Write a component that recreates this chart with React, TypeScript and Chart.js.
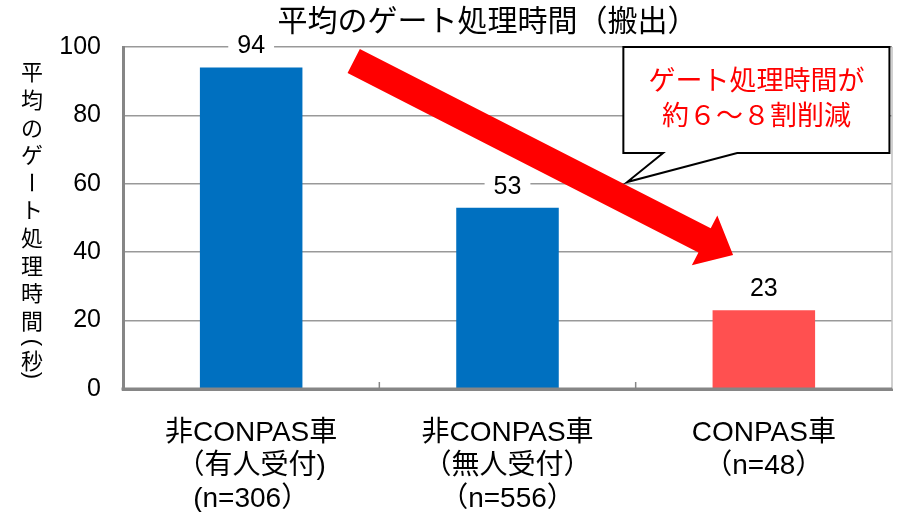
import React, { useEffect, useRef } from 'react';
import { Chart, registerables } from 'chart.js';

Chart.register(...registerables);

const FONT = "'Liberation Sans', 'Noto Sans CJK JP', sans-serif";
const CJK_FONT = "'Noto Sans CJK JP', sans-serif";

const TITLE = '平均のゲート処理時間（搬出）';
const Y_TITLE = '平均のゲート処理時間（秒）';
const CATEGORIES: string[][] = [
  ['非CONPAS車', '（有人受付)', '(n=306）'],
  ['非CONPAS車', '（無人受付）', '（n=556）'],
  ['CONPAS車', '（n=48）'],
];
const VALUES = [94, 53, 23];
const BAR_COLORS = ['#0070C0', '#0070C0', '#FF5050'];
const Y_MIN = 0;
const Y_MAX = 100;
const Y_STEP = 20;
const CALLOUT_LINES = ['ゲート処理時間が', '約６～８割削減'];
// annotation anchors in data space: [category index, value]
const ARROW_FROM = [0.4, 95.9];
const ARROW_TO = [1.88, 39.2];
const CALLOUT_BOX = { x0: 1.452, x1: 2.49, yTop: 100, yBottom: 69 };
const CALLOUT_POINTER = { base0: 1.607, base1: 1.896, tipX: 1.467, tipY: 60.5 };

const overlay = {
  id: 'overlay',
  afterDatasetsDraw(chart: any) {
    const { ctx, chartArea, scales } = chart;
    const x = scales.x;
    const y = scales.y;
    ctx.save();

    // right border of plot area
    ctx.strokeStyle = '#C0C0C0';
    ctx.lineWidth = 1.5;
    ctx.beginPath();
    ctx.moveTo(chartArea.right, chartArea.top);
    ctx.lineTo(chartArea.right, chartArea.bottom);
    ctx.stroke();

    // bottom axis redrawn over bars
    ctx.strokeStyle = '#868686';
    ctx.lineWidth = 3;
    ctx.beginPath();
    ctx.moveTo(chartArea.left - 1.5, chartArea.bottom);
    ctx.lineTo(chartArea.right, chartArea.bottom);
    ctx.stroke();

    // inside tick marks at category boundaries
    ctx.lineWidth = 1.5;
    for (let i = 0; i < CATEGORIES.length - 1; i++) {
      const px = x.getPixelForValue(i + 0.5);
      ctx.beginPath();
      ctx.moveTo(px, chartArea.bottom);
      ctx.lineTo(px, chartArea.bottom - 7);
      ctx.stroke();
    }

    // data labels with white background
    const meta = chart.getDatasetMeta(0);
    ctx.font = `25px ${FONT}`;
    ctx.textAlign = 'center';
    ctx.textBaseline = 'middle';
    meta.data.forEach((bar: any, i: number) => {
      const text = String(VALUES[i]);
      const w = ctx.measureText(text).width;
      const cy = bar.y - 22;
      ctx.fillStyle = '#FFFFFF';
      ctx.fillRect(bar.x - w / 2 - 9, cy - 13, w + 18, 26);
      ctx.fillStyle = '#000000';
      ctx.fillText(text, bar.x, cy + 1);
    });

    // big red arrow
    const fx = x.getPixelForValue(ARROW_FROM[0]);
    const fy = y.getPixelForValue(ARROW_FROM[1]);
    const tx = x.getPixelForValue(ARROW_TO[0]);
    const ty = y.getPixelForValue(ARROW_TO[1]);
    const ang = Math.atan2(ty - fy, tx - fx);
    const len = Math.hypot(tx - fx, ty - fy);
    const sw = 27;
    const hw = 56;
    const hl = 32;
    ctx.save();
    ctx.translate(fx, fy);
    ctx.rotate(ang);
    ctx.fillStyle = '#FF0000';
    ctx.beginPath();
    ctx.moveTo(0, -sw / 2);
    ctx.lineTo(len - hl, -sw / 2);
    ctx.lineTo(len - hl, -hw / 2);
    ctx.lineTo(len, 0);
    ctx.lineTo(len - hl, hw / 2);
    ctx.lineTo(len - hl, sw / 2);
    ctx.lineTo(0, sw / 2);
    ctx.closePath();
    ctx.fill();
    ctx.restore();

    // callout
    const bx0 = x.getPixelForValue(CALLOUT_BOX.x0);
    const bx1 = x.getPixelForValue(CALLOUT_BOX.x1);
    const by0 = y.getPixelForValue(CALLOUT_BOX.yTop);
    const by1 = y.getPixelForValue(CALLOUT_BOX.yBottom);
    const pb0 = x.getPixelForValue(CALLOUT_POINTER.base0);
    const pb1 = x.getPixelForValue(CALLOUT_POINTER.base1);
    const ptx = x.getPixelForValue(CALLOUT_POINTER.tipX);
    const pty = y.getPixelForValue(CALLOUT_POINTER.tipY);
    ctx.beginPath();
    ctx.moveTo(bx0, by0);
    ctx.lineTo(bx1, by0);
    ctx.lineTo(bx1, by1);
    ctx.lineTo(pb1, by1);
    ctx.lineTo(ptx, pty);
    ctx.lineTo(pb0, by1);
    ctx.lineTo(bx0, by1);
    ctx.closePath();
    ctx.fillStyle = '#FFFFFF';
    ctx.fill();
    ctx.strokeStyle = '#000000';
    ctx.lineWidth = 2;
    ctx.lineJoin = 'miter';
    ctx.stroke();
    ctx.fillStyle = '#FF0000';
    ctx.font = `27px ${FONT}`;
    ctx.textAlign = 'center';
    ctx.textBaseline = 'middle';
    const cx = (bx0 + bx1) / 2;
    const cyc = (by0 + by1) / 2;
    CALLOUT_LINES.forEach((line, i) => {
      ctx.fillText(line, cx, cyc + (i - (CALLOUT_LINES.length - 1) / 2) * 35);
    });

    // chart title
    ctx.fillStyle = '#000000';
    ctx.font = `30px ${FONT}`;
    ctx.fillText(TITLE, (chartArea.left + chartArea.right) / 2 - 20, 23);

    // vertical y-axis title
    const chars = Array.from(Y_TITLE);
    let cyT = chartArea.top + 25;
    const colX = 32;
    chars.forEach((ch, i) => {
      if (i > 0) {
        const prev = chars[i - 1];
        if (ch === '（') cyT += 22;
        else if (ch === '）') cyT += 15;
        else if (prev === '（' || prev === '）') cyT += 18;
        else cyT += 27.6;
      }
      ctx.save();
      ctx.translate(colX, cyT);
      if (ch === 'ー' || ch === '（' || ch === '）') {
        ctx.rotate(Math.PI / 2);
      }
      let glyph = ch;
      let font = `22px ${CJK_FONT}`;
      if (ch === '（') { glyph = '('; font = `22px ${FONT}`; }
      if (ch === '）') { glyph = ')'; font = `22px ${FONT}`; }
      ctx.font = font;
      ctx.fillText(glyph, 0, 0);
      ctx.restore();
    });

    ctx.restore();
  },
};

export default function App() {
  const ref = useRef<HTMLCanvasElement | null>(null);

  useEffect(() => {
    if (!ref.current) return;
    const chart = new Chart(ref.current, {
      type: 'bar',
      data: {
        labels: CATEGORIES,
        datasets: [
          {
            data: VALUES,
            backgroundColor: BAR_COLORS,
            borderWidth: 0,
            barPercentage: 0.4,
            categoryPercentage: 1,
          },
        ],
      },
      options: {
        responsive: false,
        animation: false,
        devicePixelRatio: 1,
        layout: { padding: { top: 47, right: 10, left: 0, bottom: 0 } },
        plugins: {
          legend: { display: false },
          tooltip: { enabled: false },
          title: { display: false },
        },
        scales: {
          x: {
            afterFit(scale: any) {
              scale.height = 123;
            },
            grid: { display: true, drawOnChartArea: false, drawTicks: false },
            border: { display: true, color: '#868686', width: 3 },
            ticks: {
              color: '#000000',
              font: { family: FONT, size: 28, lineHeight: 1.18 },
              padding: 28,
              maxRotation: 0,
              autoSkip: false,
            },
          },
          y: {
            min: Y_MIN,
            max: Y_MAX,
            afterFit(scale: any) {
              scale.width = 123;
            },
            grid: { color: '#999999', lineWidth: 1.5, drawTicks: false },
            border: { display: true, color: '#868686', width: 3 },
            ticks: {
              stepSize: Y_STEP,
              color: '#000000',
              font: { family: FONT, size: 25 },
              padding: 22,
            },
          },
        },
      },
      plugins: [overlay],
    });
    return () => chart.destroy();
  }, []);

  return (
    <canvas
      ref={ref}
      width={902}
      height={512}
      style={{ position: 'absolute', left: 0, top: 0, width: 902, height: 512 }}
    />
  );
}
